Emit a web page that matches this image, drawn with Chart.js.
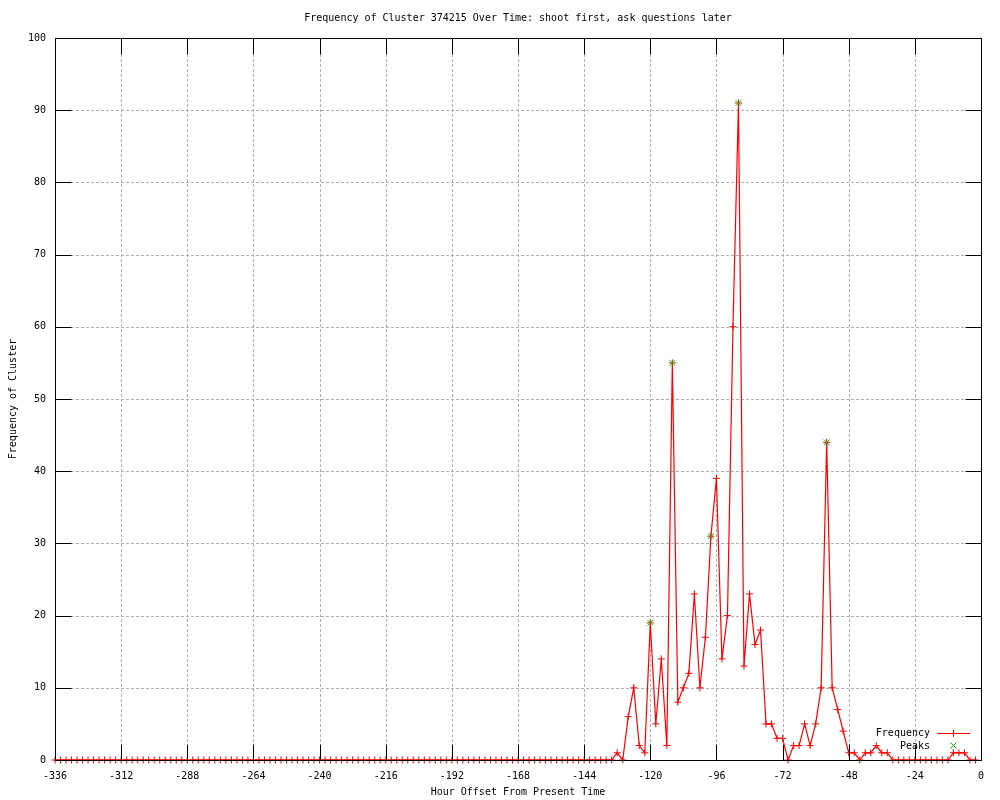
<!DOCTYPE html>
<html><head><meta charset="utf-8">
<script src="https://cdn.jsdelivr.net/npm/chart.js@4/dist/chart.umd.min.js"></script>
<style>html,body{margin:0;padding:0;background:#fff}#wrap{width:1000px;height:800px;position:relative}</style>
</head><body><div id="wrap"><canvas id="c" width="1000" height="800"></canvas></div>
<script>
const titleText = "Frequency of Cluster 374215 Over Time: shoot first, ask questions later";
const xTitle = "Hour Offset From Present Time";
const yTitle = "Frequency of Cluster";
const seriesNames = ["Frequency", "Peaks"];

// frequency every 2 hours, from -336 to -2
const freq = [
  0,0,0,0,0,0,0,0,0,0, 0,0,0,0,0,0,0,0,0,0,
  0,0,0,0,0,0,0,0,0,0, 0,0,0,0,0,0,0,0,0,0,
  0,0,0,0,0,0,0,0,0,0, 0,0,0,0,0,0,0,0,0,0,
  0,0,0,0,0,0,0,0,0,0, 0,0,0,0,0,0,0,0,0,0,
  0,0,0,0,0,0,0,0,0,0, 0,0,0,0,0,0,0,0,0,0,
  0,0,
  1,0,6,10,2,1,19,5,14,2,
  55,8,10,12,23,10,17,31,39,14,
  20,60,91,13,23,16,18,5,5,3,
  3,0,2,2,5,2,5,10,44,10,
  7,4,1,1,0,1,1,2,1,1,
  0,0,0,0,0,0,0,0,0,0,
  0,1,1,1,0,0
];
const hourStart = -336, hourStep = 2;
const hours = freq.map((_, i) => hourStart + hourStep * i);

const peakHours = [-120, -112, -98, -88, -56];
const peakValues = [19, 55, 31, 91, 44];

const xTicks = [-336,-312,-288,-264,-240,-216,-192,-168,-144,-120,-96,-72,-48,-24,0];
const yTicks = [0,10,20,30,40,50,60,70,80,90,100];

const FONT = "'DejaVu Sans Mono', 'Liberation Mono', monospace";
const RED = '#ff0000', GREEN = '#00c000', GRID = '#b0b0b0';
const TICKLEN = 16;

const framePlugin = {
  id: 'frame',
  beforeDatasetsDraw(chart) {
    const {ctx, chartArea: a, scales: {x, y}} = chart;
    ctx.save();
    ctx.strokeStyle = GRID; ctx.lineWidth = 1; ctx.setLineDash([3, 2]);
    xTicks.forEach(v => {
      const px = Math.round(x.getPixelForValue(v)) + 0.5;
      if (v === xTicks[0] || v === xTicks[xTicks.length - 1]) return;
      ctx.beginPath(); ctx.moveTo(px, a.top + TICKLEN); ctx.lineTo(px, a.bottom - TICKLEN); ctx.stroke();
    });
    yTicks.forEach(v => {
      const py = Math.round(y.getPixelForValue(v)) + 0.5;
      if (v === yTicks[0] || v === yTicks[yTicks.length - 1]) return;
      ctx.beginPath(); ctx.moveTo(a.left + TICKLEN, py); ctx.lineTo(a.right - TICKLEN, py); ctx.stroke();
    });
    ctx.restore();
  },
  afterDatasetsDraw(chart) {
    const {ctx, chartArea: a, scales: {x, y}} = chart;
    const L = Math.round(a.left) + 0.5, R = Math.round(a.right) + 0.5;
    const T = Math.round(a.top) + 0.5, B = Math.round(a.bottom) + 0.5;
    ctx.save();
    ctx.strokeStyle = '#000'; ctx.lineWidth = 1; ctx.setLineDash([]);
    ctx.strokeRect(L, T, R - L, B - T);
    ctx.beginPath();
    xTicks.forEach(v => {
      const px = Math.round(x.getPixelForValue(v)) + 0.5;
      ctx.moveTo(px, B); ctx.lineTo(px, B - TICKLEN);
      ctx.moveTo(px, T); ctx.lineTo(px, T + TICKLEN);
    });
    yTicks.forEach(v => {
      const py = Math.round(y.getPixelForValue(v)) + 0.5;
      ctx.moveTo(L, py); ctx.lineTo(L + TICKLEN, py);
      ctx.moveTo(R, py); ctx.lineTo(R - TICKLEN, py);
    });
    ctx.stroke();

    // texts
    ctx.fillStyle = '#000';
    ctx.font = '10px ' + FONT;
    ctx.textAlign = 'center'; ctx.textBaseline = 'middle';
    ctx.fillText(titleText, (a.left + a.right) / 2, 18);
    ctx.fillText(xTitle, (a.left + a.right) / 2, 792);
    ctx.save();
    ctx.translate(13, (a.top + a.bottom) / 2);
    ctx.rotate(-Math.PI / 2);
    ctx.fillText(yTitle, 0, 0);
    ctx.restore();

    // legend
    ctx.textAlign = 'right';
    ctx.fillText(seriesNames[0], 930, 733);
    ctx.fillText(seriesNames[1], 930, 746);
    ctx.strokeStyle = RED;
    ctx.beginPath();
    ctx.moveTo(937, 733.5); ctx.lineTo(970, 733.5);
    ctx.moveTo(953.5, 730); ctx.lineTo(953.5, 737);
    ctx.stroke();
    ctx.strokeStyle = GREEN;
    ctx.beginPath();
    ctx.moveTo(950.5, 742.5); ctx.lineTo(956.5, 748.5);
    ctx.moveTo(956.5, 742.5); ctx.lineTo(950.5, 748.5);
    ctx.stroke();
    ctx.restore();
  }
};

new Chart(document.getElementById('c'), {
  type: 'line',
  data: {
    datasets: [
      {
        label: seriesNames[0],
        data: hours.map((h, i) => ({x: h, y: freq[i]})),
        borderColor: RED, backgroundColor: RED, borderWidth: 1.2,
        pointStyle: 'cross', pointRadius: 3.5, pointBorderWidth: 1,
        pointBorderColor: RED, tension: 0, fill: false, clip: false, order: 2
      },
      {
        label: seriesNames[1],
        data: peakHours.map((h, i) => ({x: h, y: peakValues[i]})),
        showLine: false, borderColor: GREEN, backgroundColor: GREEN,
        pointStyle: 'crossRot', pointRadius: 4, pointBorderWidth: 1,
        pointBorderColor: GREEN, clip: false, order: 1
      }
    ]
  },
  options: {
    responsive: false, animation: false, events: [],
    layout: {padding: {top: 38, right: 19, left: 0, bottom: 0}},
    plugins: {legend: {display: false}, title: {display: false}, tooltip: {enabled: false}},
    scales: {
      x: {
        type: 'linear', min: -336, max: 0,
        afterBuildTicks: s => { s.ticks = xTicks.map(v => ({value: v})); },
        ticks: {font: {family: FONT, size: 10}, color: '#000', padding: 10, maxRotation: 0, autoSkip: false},
        grid: {display: false, drawTicks: false}, border: {display: false},
        afterFit: s => { s.height = 40; }
      },
      y: {
        type: 'linear', min: 0, max: 100,
        afterBuildTicks: s => { s.ticks = yTicks.map(v => ({value: v})); },
        ticks: {font: {family: FONT, size: 10}, color: '#000', padding: 9, autoSkip: false},
        grid: {display: false, drawTicks: false}, border: {display: false},
        afterFit: s => { s.width = 55; }
      }
    }
  },
  plugins: [framePlugin]
});
</script>
</body></html>
